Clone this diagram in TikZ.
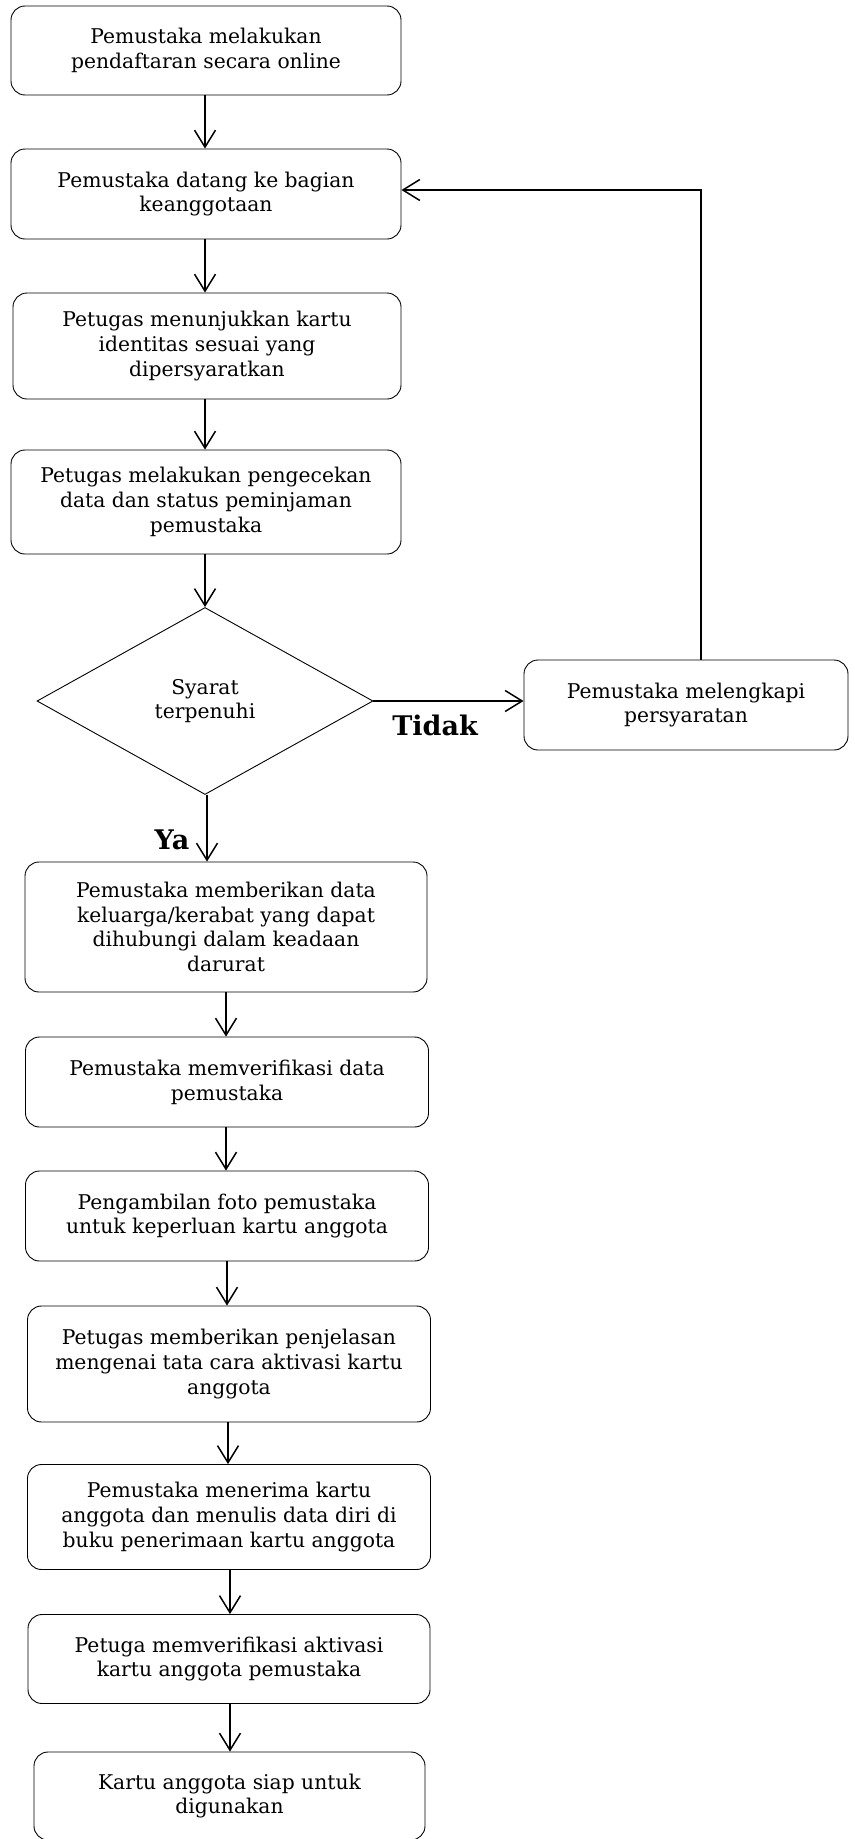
\documentclass[tikz,border=0pt]{standalone}
\usepackage{fontspec}
\setmainfont{DejaVu Serif}
\usetikzlibrary{arrows.meta,shapes.geometric}
\newcommand{\toppad}{\rule{0pt}{22pt}}
\tikzset{
  stepbox/.style={draw, line width=0.9pt, rounded corners=14pt, align=center,
    inner sep=2pt, font=\fontsize{20.3}{24.8}\selectfont,
    execute at begin node=\toppad},
  decide/.style={draw, line width=0.9pt, diamond, align=center, inner sep=0pt,
    font=\fontsize{20.3}{24.8}\selectfont, execute at begin node=\toppad},
  flow/.style={line width=1.5pt, -{Straight Barb[length=17pt,width=21pt,line width=1.5pt]}},
  answer/.style={font=\fontsize{27}{30}\selectfont\bfseries}
}
\begin{document}
\begin{tikzpicture}[x=1pt,y=-1pt]
\useasboundingbox (0,0) rectangle (854,1839);

\node[stepbox, minimum width=390pt, minimum height=89pt] (b1) at (206,50.5)
  {Pemustaka melakukan\\pendaftaran secara online};
\node[stepbox, minimum width=390pt, minimum height=90pt] (b2) at (206,194)
  {Pemustaka datang ke bagian\\keanggotaan};
\node[stepbox, minimum width=388pt, minimum height=106pt] (b3) at (207,346)
  {Petugas menunjukkan kartu\\identitas sesuai yang\\dipersyaratkan};
\node[stepbox, minimum width=390pt, minimum height=104pt] (b4) at (206,502)
  {Petugas melakukan pengecekan\\data dan status peminjaman\\pemustaka};
\node[decide, minimum width=336pt, minimum height=187pt] (dec) at (205,701)
  {Syarat\\terpenuhi};
\node[stepbox, minimum width=324pt, minimum height=90pt] (fix) at (686,705)
  {Pemustaka melengkapi\\persyaratan};
\node[stepbox, minimum width=402pt, minimum height=130pt] (b5) at (226,927)
  {Pemustaka memberikan data\\keluarga/kerabat yang dapat\\dihubungi dalam keadaan\\darurat};
\node[stepbox, minimum width=403pt, minimum height=90pt] (b6) at (227,1082)
  {Pemustaka memverifikasi data\\pemustaka};
\node[stepbox, minimum width=403pt, minimum height=90pt] (b7) at (227,1216)
  {Pengambilan foto pemustaka\\untuk keperluan kartu anggota};
\node[stepbox, minimum width=403pt, minimum height=116pt] (b8) at (229,1364)
  {Petugas memberikan penjelasan\\mengenai tata cara aktivasi kartu\\anggota};
\node[stepbox, minimum width=403pt, minimum height=105pt] (b9) at (229,1517)
  {Pemustaka menerima kartu\\anggota dan menulis data diri di\\buku penerimaan kartu anggota};
\node[stepbox, minimum width=402pt, minimum height=89pt] (b10) at (229,1659)
  {Petuga memverifikasi aktivasi\\kartu anggota pemustaka};
\node[stepbox, minimum width=391pt, minimum height=88pt] (b11) at (229.5,1796)
  {Kartu anggota siap untuk\\digunakan};

% main sequence
\draw[flow] (b1.south -| 205,0) -- (b2.north -| 205,0);
\draw[flow] (b2.south -| 205,0) -- (b3.north -| 205,0);
\draw[flow] (b3.south -| 205,0) -- (b4.north -| 205,0);
\draw[flow] (b4.south -| 205,0) -- (dec.north);
\draw[flow] (dec.south -| 207,0) -- (b5.north -| 207,0);
\draw[flow] (b5.south -| 226,0) -- (b6.north -| 226,0);
\draw[flow] (b6.south -| 226,0) -- (b7.north -| 226,0);
\draw[flow] (b7.south -| 227,0) -- (b8.north -| 227,0);
\draw[flow] (b8.south -| 228,0) -- (b9.north -| 228,0);
\draw[flow] (b9.south -| 230,0) -- (b10.north -| 230,0);
\draw[flow] (b10.south -| 230,0) -- (b11.north -| 230,0);

% rejected branch and loop back
\draw[flow] (dec.east) -- (dec.east -| fix.west);
\coordinate (up) at (701,190);
\draw[flow] (fix.north -| up) -- (up) -- (up -| b2.east);

\node[answer] (tidak) at (435,725) {Tidak};
\node[answer] (ya) at (172,840) {Ya};
\end{tikzpicture}
\end{document}
